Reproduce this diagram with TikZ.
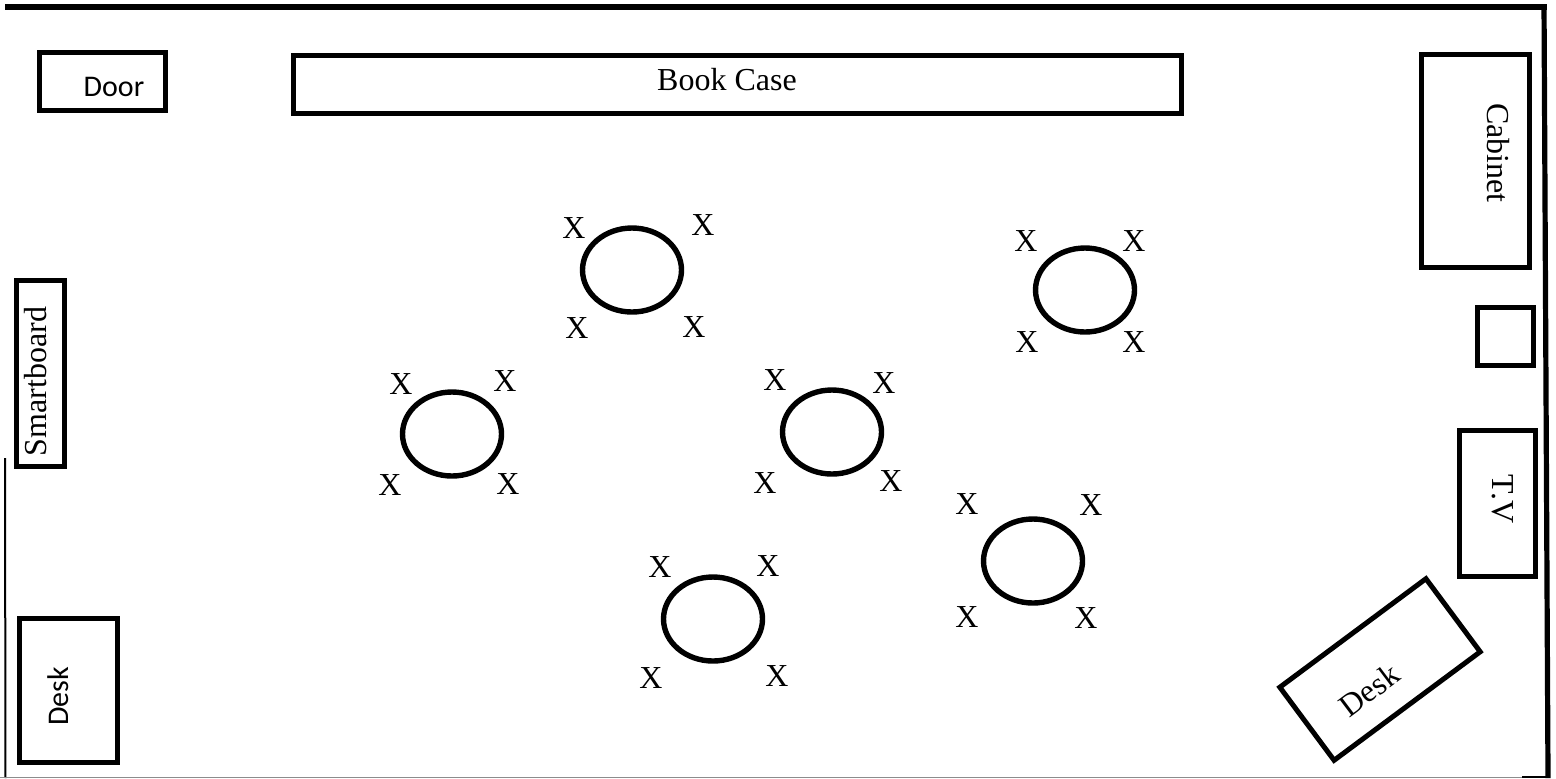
\documentclass[tikz,border=0pt]{standalone}
\usepackage{fontspec}
\usetikzlibrary{shapes.geometric}
\setmainfont{Liberation Serif}
\newfontfamily\sansf{Carlito}
\begin{document}
\begin{tikzpicture}[x=0.5pt,y=-0.5pt,
  thing/.style={draw=black,line width=2.5pt,fill=white,rectangle,inner sep=0pt},
  tbl/.style={draw=black,line width=2.7pt,ellipse,minimum width=49.5pt,minimum height=42pt,inner sep=0pt},
  seat/.style={font=\fontsize{16}{16}\selectfont,inner sep=0pt},
  lab/.style={font=\fontsize{16}{17}\selectfont,inner sep=0pt},
  slab/.style={font=\sansf\fontsize{15}{16}\selectfont,inner sep=0pt}]
\useasboundingbox (0,0) rectangle (1556,778);
\fill[white] (0,0) rectangle (1556,778);
\draw[black,line width=1pt] (5,458) -- (5.5,778);
\draw[black,line width=3pt] (5,7) -- (1547,7);
\draw[black,line width=2.6pt] (1544,5) -- (1548,778);
\draw[black!45,line width=0.6pt] (0,777.5) -- (1522,777.5);
\draw[black,line width=1pt] (1522,777) -- (1548,777);
% rectangles
\node[thing,minimum width=63pt,minimum height=29pt] (door) at (102,81) {};
\node[slab] at (114,87) {Door};
\node[thing,minimum width=444pt,minimum height=29pt] (bookcase) at (737.5,84) {};
\node[lab] at (727,80) {Book Case};
\node[thing,minimum width=54pt,minimum height=106.5pt] (cabinet) at (1475.5,161) {};
\node[lab,rotate=-90] at (1498,153) {Cabinet};
\node[thing,minimum width=28pt,minimum height=29pt] (box) at (1505.5,336) {};
\node[thing,minimum width=38pt,minimum height=73pt] (tv) at (1497,503) {};
\node[lab,rotate=-90] at (1503,499) {T.V};
\node[thing,minimum width=24pt,minimum height=93pt] (smart) at (40.5,373) {};
\node[lab,rotate=90] at (36,381.5) {Smartboard};
\node[thing,minimum width=49pt,minimum height=72pt] (desk1) at (68.5,690) {};
\node[slab,rotate=90] at (58,696.5) {Desk};
\node[thing,minimum width=91pt,minimum height=45.5pt,rotate=36.6] (desk2) at (1380,669.5) {};
\node[lab,rotate=37] at (1369,690) {Desk};
% tables
\node[tbl] (t1) at (632,270) {};
\node[tbl] (t2) at (1085,290) {};
\node[tbl] (t3) at (452,434) {};
\node[tbl] (t4) at (832,432) {};
\node[tbl] (t5) at (1033,561) {};
\node[tbl] (t6) at (713,619) {};
% seats
\foreach \x/\y in {574/228,703/225,577/328,694/327,
  1026/241,1134/241,1027/342,1134/342,
  401/384,505/381,390/485,508/484,
  775/380,884/383,765/483,891/481,
  967/504,1091/505,967/617,1086/618,
  660/567,768/566,651/678,777/676}
  \node[seat] at (\x,\y) {X};
\end{tikzpicture}
\end{document}
